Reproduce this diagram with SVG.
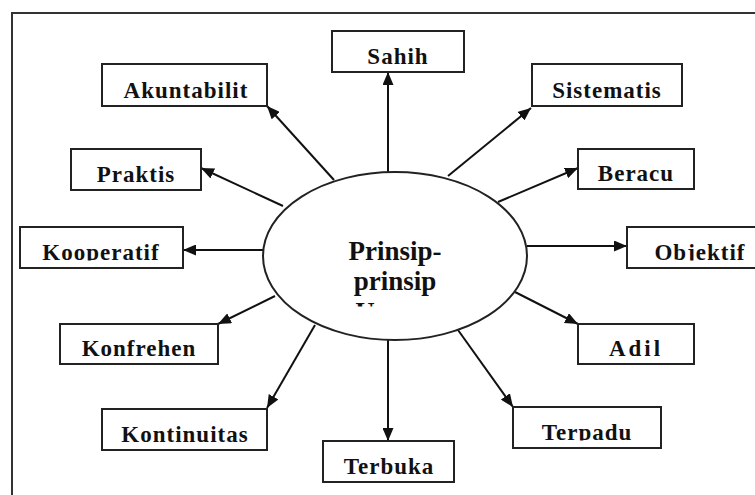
<svg xmlns="http://www.w3.org/2000/svg" width="755" height="495" viewBox="0 0 755 495">
<style>
.box{fill:#fff;stroke:#222;stroke-width:2}
.lbl{font-family:"Liberation Serif","Times New Roman",serif;font-weight:bold;font-size:23px;fill:#111;text-anchor:middle;letter-spacing:1px}
.ctr{font-family:"Liberation Serif","Times New Roman",serif;font-weight:bold;font-size:27px;fill:#111;text-anchor:middle}
.con{stroke:#111;stroke-width:2;fill:none;marker-end:url(#ah)}
</style>
<defs>
<marker id="ah" markerUnits="userSpaceOnUse" markerWidth="13" markerHeight="11" refX="13" refY="5.5" orient="auto">
<path d="M0,0 L13,5.5 L0,11 z" fill="#111"/>
</marker>
<clipPath id="lc" clipPathUnits="userSpaceOnUse">
<rect x="332" y="31" width="132" height="33.5"/>
<rect x="102" y="64" width="165" height="34.5"/>
<rect x="532" y="64" width="150" height="34.5"/>
<rect x="71" y="149" width="130" height="33.5"/>
<rect x="578" y="149" width="116" height="32.5"/>
<rect x="20" y="227" width="163" height="33.5"/>
<rect x="627" y="227" width="146" height="33.5"/>
<rect x="60" y="324" width="158" height="32.5"/>
<rect x="578" y="324" width="116" height="32.5"/>
<rect x="102" y="409" width="165" height="33.5"/>
<rect x="323" y="441" width="131" height="33.5"/>
<rect x="513" y="407" width="148" height="33.5"/>
</clipPath>
<clipPath id="cc" clipPathUnits="userSpaceOnUse">
<rect x="280" y="200" width="230" height="106.5"/>
</clipPath>
</defs>
<rect x="0" y="0" width="755" height="495" fill="#fff"/>
<rect x="12" y="13" width="770" height="500" fill="none" stroke="#333" stroke-width="2"/>
<g id="connectors">
<line class="con" x1="388" y1="172" x2="388" y2="72"/>
<line class="con" x1="448" y1="176" x2="531" y2="108"/>
<line class="con" x1="498" y1="202" x2="578" y2="168"/>
<line class="con" x1="527" y1="246" x2="627" y2="246"/>
<line class="con" x1="515" y1="292" x2="578" y2="324"/>
<line class="con" x1="458" y1="330" x2="513" y2="407"/>
<line class="con" x1="388" y1="340" x2="388" y2="441"/>
<line class="con" x1="315" y1="325" x2="267" y2="408"/>
<line class="con" x1="275" y1="296" x2="218" y2="324"/>
<line class="con" x1="263" y1="250" x2="183" y2="250"/>
<line class="con" x1="283" y1="206" x2="201" y2="168"/>
<line class="con" x1="334" y1="180" x2="267" y2="106"/>
</g>
<g id="center">
<ellipse cx="395" cy="256" rx="132" ry="84" fill="#fff" stroke="#222" stroke-width="2"/>
<g clip-path="url(#cc)">
<text class="ctr" x="395" y="260">Prinsip-</text>
<text class="ctr" x="395" y="290">prinsip</text>
<text class="ctr" x="395" y="321">Umum</text>
</g>
</g>
<g id="sahih"><rect class="box" x="332" y="31" width="132" height="41"/><text class="lbl" x="398" y="63.5" clip-path="url(#lc)">Sahih</text></g>
<g id="akuntabilit"><rect class="box" x="102" y="64" width="165" height="42"/><text class="lbl" x="186" y="97.5" clip-path="url(#lc)">Akuntabilit</text></g>
<g id="sistematis"><rect class="box" x="532" y="64" width="150" height="42"/><text class="lbl" x="607" y="97.5" clip-path="url(#lc)">Sistematis</text></g>
<g id="praktis"><rect class="box" x="71" y="149" width="130" height="41"/><text class="lbl" x="136" y="181.5" clip-path="url(#lc)">Praktis</text></g>
<g id="beracu"><rect class="box" x="578" y="149" width="116" height="40"/><text class="lbl" x="636" y="180.5" clip-path="url(#lc)">Beracu</text></g>
<g id="kooperatif"><rect class="box" x="20" y="227" width="163" height="41"/><text class="lbl" x="101" y="259.5" clip-path="url(#lc)">Kooperatif</text></g>
<g id="objektif"><rect class="box" x="627" y="227" width="146" height="41"/><text class="lbl" x="700" y="259.5" clip-path="url(#lc)">Objektif</text></g>
<g id="konfrehen"><rect class="box" x="60" y="324" width="158" height="40"/><text class="lbl" x="139" y="355.5" clip-path="url(#lc)">Konfrehen</text></g>
<g id="adil"><rect class="box" x="578" y="324" width="116" height="40"/><text class="lbl" x="636" y="355.5" clip-path="url(#lc)" style="letter-spacing:3px">Adil</text></g>
<g id="kontinuitas"><rect class="box" x="102" y="409" width="165" height="41"/><text class="lbl" x="185" y="441.5" clip-path="url(#lc)">Kontinuitas</text></g>
<g id="terbuka"><rect class="box" x="323" y="441" width="131" height="41"/><text class="lbl" x="389" y="473.5" clip-path="url(#lc)">Terbuka</text></g>
<g id="terpadu"><rect class="box" x="513" y="407" width="148" height="41"/><text class="lbl" x="587" y="439.5" clip-path="url(#lc)">Terpadu</text></g>
</svg>
